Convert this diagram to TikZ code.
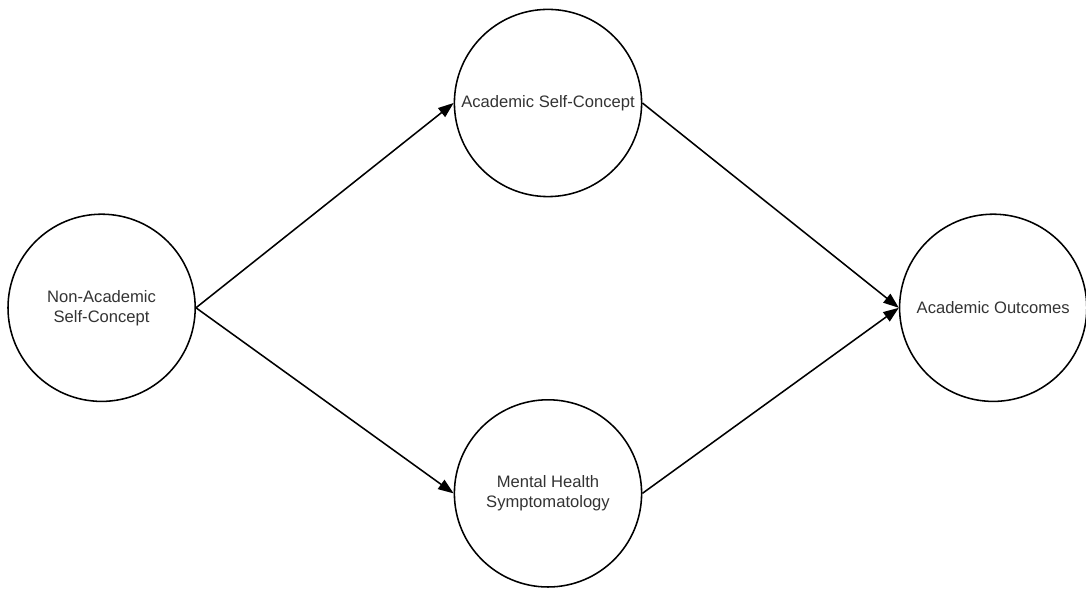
\documentclass[tikz,border=0pt]{standalone}
\usepackage{fontspec}
\setmainfont{Liberation Sans}
\usetikzlibrary{arrows.meta}

\begin{document}
\begin{tikzpicture}[scale=1.0]
\useasboundingbox (0,0) rectangle (27.15,14.725);
\begin{scope}
\tikzstyle{every node}=[shape=circle, inner sep=0pt, minimum size=4.68cm, line width=1.1pt, align=center, text=black!80, font=\fontsize{11.8}{14.2}\selectfont];
\draw (2.54,7.03) node[draw] (c1) {Non-Academic\\Self-Concept};
\draw (13.7,12.15) node[draw] (c2) {Academic Self-Concept};
\draw (13.7,2.39) node[draw] (c3) {Mental Health\\Symptomatology};
\draw (24.83,7.03) node[draw] (c4) {Academic Outcomes};
\draw[line width=1.1pt, -{Triangle[length=11pt,width=8pt]}] (c1.east) -- (c2.west);
\draw[line width=1.1pt, -{Triangle[length=11pt,width=8pt]}] (c1.east) -- (c3.west);
\draw[line width=1.1pt, -{Triangle[length=11pt,width=8pt]}] (c2.east) -- (c4.west);
\draw[line width=1.1pt, -{Triangle[length=11pt,width=8pt]}] (c3.east) -- (c4.west);
\end{scope}
\end{tikzpicture}
\end{document}
